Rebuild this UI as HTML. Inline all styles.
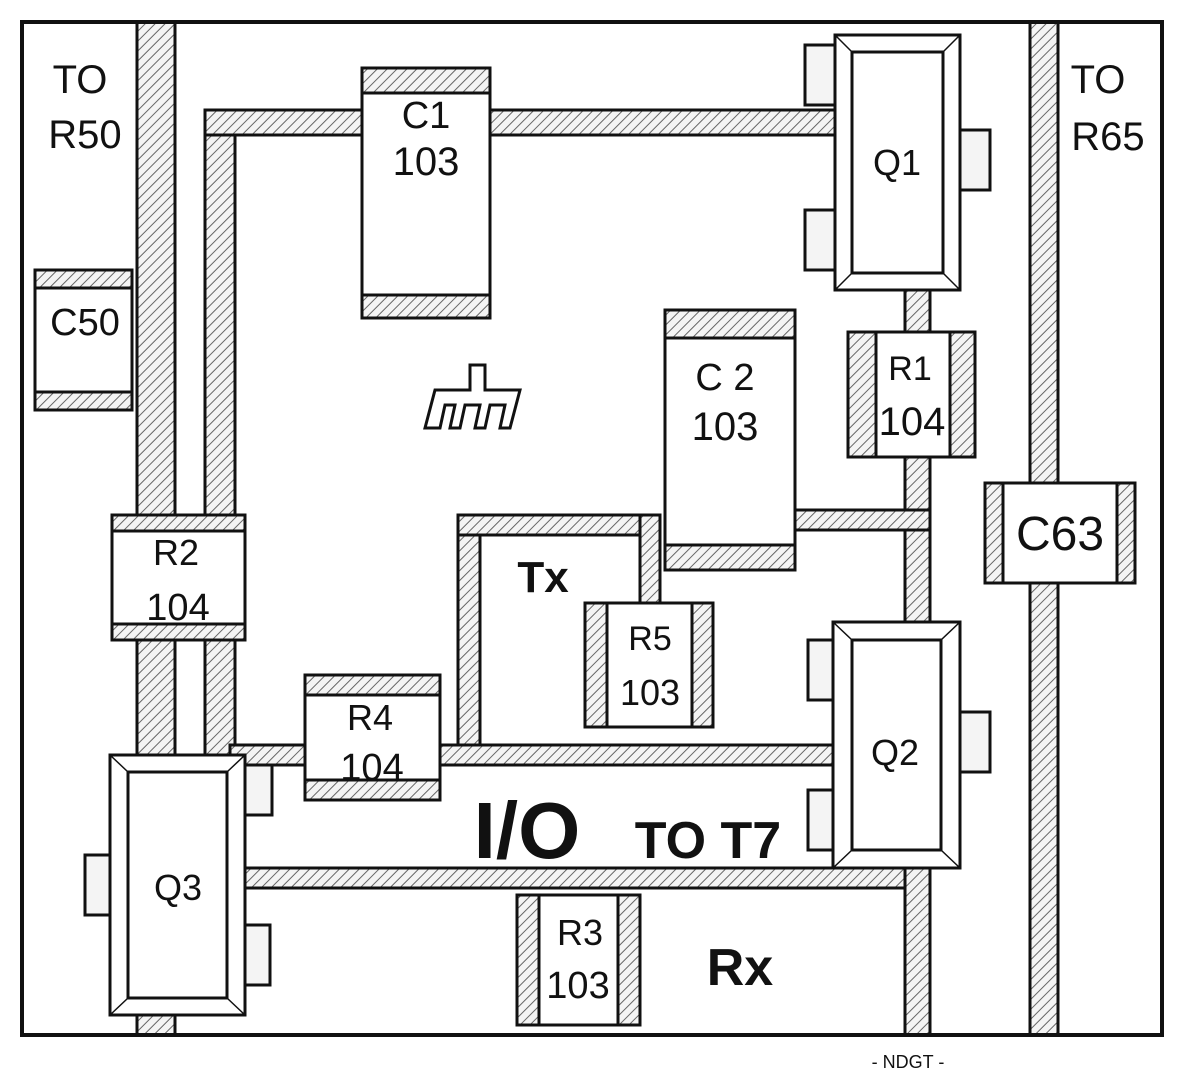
<!DOCTYPE html>
<html><head><meta charset="utf-8"><style>
html,body{margin:0;padding:0;background:#fff;}
svg{display:block}
text{font-family:"Liberation Sans",sans-serif;fill:#111;}
</style></head><body>
<svg width="1200" height="1087" viewBox="0 0 1200 1087" xmlns="http://www.w3.org/2000/svg">
<defs>
<pattern id="h" width="7" height="7" patternUnits="userSpaceOnUse" patternTransform="rotate(45)">
<rect width="7" height="7" fill="#f4f4f4"/><line x1="0" y1="0" x2="0" y2="7" stroke="#666" stroke-width="2"/>
</pattern>
</defs>
<rect x="0" y="0" width="1200" height="1087" fill="#fff"/>
<g stroke="#111" stroke-width="3" fill="url(#h)">
<rect x="137" y="22" width="38" height="1013"/>
<rect x="1030" y="22" width="28" height="1013"/>
<rect x="205" y="110" width="30" height="645"/>
<rect x="205" y="110" width="635" height="25"/>
<rect x="458" y="515" width="22" height="235"/>
<rect x="458" y="515" width="202" height="20"/>
<rect x="640" y="515" width="20" height="90"/>
<rect x="230" y="745" width="605" height="20"/>
<rect x="245" y="868" width="685" height="20"/>
<rect x="905" y="285" width="25" height="750"/>
<rect x="795" y="510" width="135" height="20"/>
</g>
<rect x="22" y="22" width="1140" height="1013" fill="none" stroke="#111" stroke-width="4"/>
<g stroke="#111" stroke-width="3">
<g fill="#f4f4f4">
<rect x="805" y="45" width="32" height="60"/><rect x="805" y="210" width="32" height="60"/><rect x="958" y="130" width="32" height="60"/>
<rect x="808" y="640" width="28" height="60"/><rect x="808" y="790" width="28" height="60"/><rect x="958" y="712" width="32" height="60"/>
<rect x="85" y="855" width="27" height="60"/><rect x="243" y="765" width="29" height="50"/><rect x="243" y="925" width="27" height="60"/>
</g>
<g fill="#fff">
<rect x="835" y="35" width="125" height="255"/>
<rect x="852" y="52" width="91" height="221"/>
<rect x="833" y="622" width="127" height="246"/>
<rect x="852" y="640" width="89" height="210"/>
<rect x="110" y="755" width="135" height="260"/>
<rect x="128" y="772" width="99" height="226"/>
</g>
<g stroke-width="1.5">
<path d="M835 35 L852 52 M960 35 L943 52 M835 290 L852 273 M960 290 L943 273"/>
<path d="M833 622 L852 640 M960 622 L941 640 M833 868 L852 850 M960 868 L941 850"/>
<path d="M110 755 L128 772 M245 755 L227 772 M110 1015 L128 998 M245 1015 L227 998"/>
</g>
<rect x="362" y="68" width="128" height="250" fill="#fff"/>
<rect x="362" y="68" width="128" height="25" fill="url(#h)"/><rect x="362" y="295" width="128" height="23" fill="url(#h)"/>
<rect x="665" y="310" width="130" height="260" fill="#fff"/>
<rect x="665" y="310" width="130" height="28" fill="url(#h)"/><rect x="665" y="545" width="130" height="25" fill="url(#h)"/>
<rect x="35" y="270" width="97" height="140" fill="#fff"/>
<rect x="35" y="270" width="97" height="18" fill="url(#h)"/><rect x="35" y="392" width="97" height="18" fill="url(#h)"/>
<rect x="305" y="675" width="135" height="125" fill="#fff"/>
<rect x="305" y="675" width="135" height="20" fill="url(#h)"/><rect x="305" y="780" width="135" height="20" fill="url(#h)"/>
<rect x="112" y="515" width="133" height="125" fill="#fff"/>
<rect x="112" y="515" width="133" height="16" fill="url(#h)"/><rect x="112" y="624" width="133" height="16" fill="url(#h)"/>
<rect x="848" y="332" width="127" height="125" fill="#fff"/>
<rect x="848" y="332" width="28" height="125" fill="url(#h)"/><rect x="950" y="332" width="25" height="125" fill="url(#h)"/>
<rect x="985" y="483" width="150" height="100" fill="#fff"/>
<rect x="985" y="483" width="18" height="100" fill="url(#h)"/><rect x="1117" y="483" width="18" height="100" fill="url(#h)"/>
<rect x="585" y="603" width="128" height="124" fill="#fff"/>
<rect x="585" y="603" width="22" height="124" fill="url(#h)"/><rect x="692" y="603" width="21" height="124" fill="url(#h)"/>
<rect x="517" y="895" width="123" height="130" fill="#fff"/>
<rect x="517" y="895" width="22" height="130" fill="url(#h)"/><rect x="618" y="895" width="22" height="130" fill="url(#h)"/>
</g>
<path d="M470 365 L485 365 L485 390 L520 390 L510 428 L500 428 L505 405 L490 405 L485 428 L475 428 L480 405 L465 405 L460 428 L450 428 L455 405 L445 405 L440 428 L425 428 L435 390 L470 390 Z" fill="#fff" stroke="#111" stroke-width="3"/>
<g text-anchor="middle">
<text x="80" y="93" font-size="40">TO</text>
<text x="85" y="148" font-size="40">R50</text>
<text x="1098" y="93" font-size="40">TO</text>
<text x="1108" y="150" font-size="40">R65</text>
<text x="426" y="128" font-size="38">C1</text>
<text x="426" y="175" font-size="40">103</text>
<text x="897" y="175" font-size="36">Q1</text>
<text x="85" y="335" font-size="38" fill="#444">C50</text>
<text x="725" y="390" font-size="38">C 2</text>
<text x="725" y="440" font-size="40">103</text>
<text x="910" y="380" font-size="34">R1</text>
<text x="912" y="435" font-size="40">104</text>
<text x="1060" y="550" font-size="48">C63</text>
<text x="176" y="565" font-size="36">R2</text>
<text x="178" y="620" font-size="38">104</text>
<text x="543" y="592" font-size="44" font-weight="bold">Tx</text>
<text x="650" y="650" font-size="34">R5</text>
<text x="650" y="705" font-size="36">103</text>
<text x="370" y="730" font-size="36">R4</text>
<text x="372" y="780" font-size="38">104</text>
<text x="895" y="765" font-size="36">Q2</text>
<text x="527" y="858" font-size="80" font-weight="bold">I/O</text>
<text x="708" y="858" font-size="52" font-weight="bold">TO T7</text>
<text x="178" y="900" font-size="36">Q3</text>
<text x="580" y="945" font-size="36">R3</text>
<text x="578" y="998" font-size="38">103</text>
<text x="740" y="985" font-size="52" font-weight="bold">Rx</text>
<text x="908" y="1068" font-size="18">- NDGT -</text>
</g>
</svg>
</body></html>
